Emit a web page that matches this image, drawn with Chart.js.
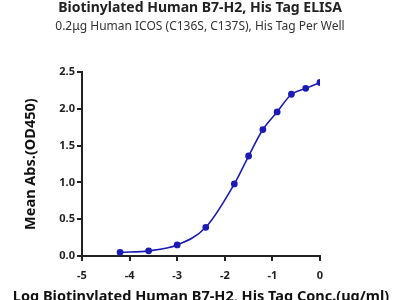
<!DOCTYPE html>
<html>
<head>
<meta charset="utf-8">
<script src="https://cdn.jsdelivr.net/npm/chart.js@4"></script>
<style>
  html, body { margin: 0; padding: 0; background: #fff; }
  #wrap { width: 400px; height: 300px; }
</style>
</head>
<body>
<div id="wrap"><canvas id="elisa-chart"></canvas></div>
<script>
const logConc = [-4.2, -3.6, -3.0, -2.4, -1.8, -1.5, -1.2, -0.9, -0.6, -0.3, 0];
const meanAbs = [0.05, 0.07, 0.15, 0.39, 0.98, 1.36, 1.72, 1.96, 2.20, 2.28, 2.36];
const xTicks = [-5, -4, -3, -2, -1, 0];
const yTicks = [0, 0.5, 1.0, 1.5, 2.0, 2.5];

const fontFamily = "'Noto Sans', sans-serif";
const axisColor = "#222";
const lineColor = "#1c1cb4";

const points = logConc.map((x, i) => ({ x: x, y: meanAbs[i] }));

// the scale title gets squeezed to the plot width, so the x title is drawn here
const xAxisTitle = {
    id: "xAxisTitle",
    afterDraw(chart, args, opts) {
        const { ctx, chartArea } = chart;
        ctx.save();
        ctx.font = `bold ${opts.size}px ${fontFamily}`;
        ctx.fillStyle = opts.color;
        ctx.textAlign = "center";
        ctx.textBaseline = "middle";
        ctx.fillText(opts.text, (chartArea.left + chartArea.right) / 2, chartArea.bottom + opts.offset);
        ctx.restore();
    }
};

new Chart(document.getElementById("elisa-chart"), {
    type: "line",
    data: {
        datasets: [{
            data: points,
            borderColor: lineColor,
            backgroundColor: lineColor,
            borderWidth: 1.6,
            pointRadius: 2.6,
            pointHoverRadius: 2.6,
            cubicInterpolationMode: "monotone",
            fill: false
        }]
    },
    plugins: [xAxisTitle],
    options: {
        responsive: true,
        maintainAspectRatio: false,
        animation: false,
        layout: { padding: 0 },
        plugins: {
            legend: { display: false },
            tooltip: { enabled: false },
            title: {
                display: true,
                text: "Biotinylated Human B7-H2, His Tag ELISA",
                color: "#222",
                font: { family: fontFamily, size: 14, weight: "bold" },
                padding: { top: 0, bottom: 3 }
            },
            subtitle: {
                display: true,
                text: "0.2μg Human ICOS (C136S, C137S), His Tag Per Well",
                color: "#333",
                font: { family: fontFamily, size: 12 },
                padding: { top: 0, bottom: 38 }
            },
            xAxisTitle: {
                text: "Log Biotinylated Human B7-H2, His Tag Conc.(ug/ml)",
                color: "#111",
                size: 14.5,
                offset: 41
            }
        },
        scales: {
            x: {
                type: "linear",
                min: -5,
                max: 0,
                afterBuildTicks: axis => { axis.ticks = xTicks.map(v => ({ value: v })); },
                afterFit: axis => { axis.height = 44; },
                ticks: {
                    color: "#222",
                    padding: 8,
                    font: { family: fontFamily, size: 11, weight: "bold" }
                },
                grid: { drawOnChartArea: false, drawTicks: true, tickLength: 5, lineWidth: 2, color: axisColor },
                border: { display: true, color: axisColor, width: 2 }
            },
            y: {
                min: 0,
                max: 2.5,
                afterBuildTicks: axis => { axis.ticks = yTicks.map(v => ({ value: v })); },
                afterFit: axis => { axis.width = 82; },
                ticks: {
                    color: "#222",
                    padding: 2,
                    callback: v => v.toFixed(1),
                    font: { family: fontFamily, size: 11, weight: "bold" }
                },
                grid: { drawOnChartArea: false, drawTicks: true, tickLength: 5, lineWidth: 2, color: axisColor },
                border: { display: true, color: axisColor, width: 2 },
                title: {
                    display: true,
                    text: "Mean Abs.(OD450)",
                    color: "#111",
                    font: { family: fontFamily, size: 14.5, weight: "bold" },
                    padding: { top: 22, bottom: 0 }
                }
            },
            // empty right-hand box keeps the plot narrow while titles stay centred on the page
            spacer: {
                position: "right",
                display: true,
                afterFit: axis => { axis.width = 80; },
                ticks: { display: false },
                grid: { display: false },
                border: { display: false }
            }
        }
    }
});
</script>
</body>
</html>
